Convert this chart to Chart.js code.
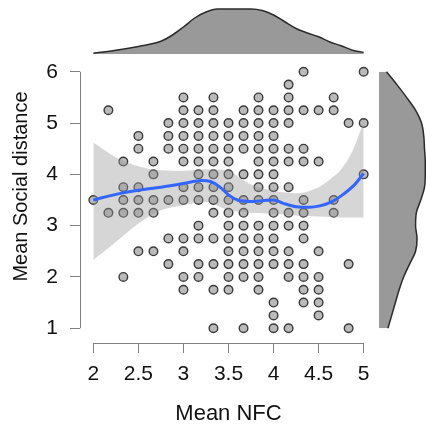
<!DOCTYPE html>
<html><head><meta charset="utf-8">
<script src="https://cdn.jsdelivr.net/npm/chart.js@4/dist/chart.umd.min.js"></script>
<style>
html,body{margin:0;padding:0;background:#fff;}
#wrap{position:relative;width:426px;height:428px;overflow:hidden;background:#fff;}
#wrap canvas{position:absolute;}
</style></head><body>
<div id="wrap">
<canvas id="main" width="426" height="428" style="left:0;top:0"></canvas>
<canvas id="topd" width="426" height="54" style="left:0;top:0"></canvas>
<canvas id="rightd" width="47" height="428" style="left:379px;top:0"></canvas>
</div>
<script>
// ---- data ----
const nfcLevels = [2.0, 2.167, 2.333, 2.5, 2.667, 2.833, 3.0, 3.167, 3.333, 3.5, 3.667, 3.833, 4.0, 4.167, 4.333, 4.5, 4.667, 4.833, 5.0];
const socialAtLevel = [
  [3.5],
  [5.25, 3.25],
  [4.25, 3.75, 3.5, 3.25, 2.0],
  [4.75, 4.5, 3.75, 3.5, 3.25, 2.5],
  [4.25, 4.0, 3.5, 3.25, 2.5],
  [5.0, 4.75, 4.5, 3.5, 2.75, 2.25],
  [5.5, 5.25, 5.0, 4.75, 4.5, 4.25, 3.75, 3.5, 2.75, 2.5, 2.0, 1.75],
  [5.25, 5.0, 4.75, 4.5, 4.25, 4.0, 3.75, 3.5, 3.0, 2.75, 2.25, 2.0],
  [5.5, 5.25, 5.0, 4.75, 4.5, 4.25, 4.0, 3.75, 3.5, 3.25, 2.75, 2.25, 1.75, 1.0],
  [5.0, 4.75, 4.5, 4.25, 4.0, 3.75, 3.5, 3.25, 3.0, 2.75, 2.5, 2.25, 2.0, 1.75],
  [5.25, 5.0, 4.75, 4.5, 4.0, 3.5, 3.25, 3.0, 2.75, 2.5, 2.25, 2.0, 1.0],
  [5.5, 5.25, 5.0, 4.75, 4.5, 4.25, 4.0, 3.75, 3.5, 3.0, 2.75, 2.5, 2.25, 2.0, 1.75],
  [5.25, 5.0, 4.75, 4.5, 4.25, 4.0, 3.75, 3.5, 3.25, 3.0, 2.75, 2.5, 2.25, 1.5, 1.25, 1.0],
  [5.75, 5.5, 5.25, 5.0, 4.5, 4.25, 3.75, 3.25, 3.0, 2.5, 2.25, 2.0, 1.0],
  [6.0, 5.25, 4.5, 4.25, 3.5, 3.25, 3.0, 2.75, 2.25, 2.0, 1.75, 1.5],
  [5.25, 4.25, 2.5, 2.0, 1.75, 1.5, 1.25],
  [5.5, 5.25, 3.5, 3.25],
  [5.0, 2.25, 1.0],
  [6.0, 5.0, 4.0]
];

const smoothX = [2.0, 2.25, 2.5, 2.75, 3.0, 3.2, 3.3, 3.4, 3.5, 3.6, 3.75, 3.9, 4.0, 4.1, 4.25, 4.4, 4.5, 4.65, 4.75, 4.9, 5.0];
const smoothY = [3.50, 3.61, 3.69, 3.75, 3.82, 3.88, 3.86, 3.76, 3.60, 3.50, 3.47, 3.49, 3.50, 3.44, 3.37, 3.36, 3.38, 3.47, 3.58, 3.80, 4.02];

const bandX     = [2.0, 2.25, 2.5, 2.75, 3.0, 3.25, 3.5, 3.625, 3.75, 4.0, 4.25, 4.5, 4.625, 4.75, 4.875, 5.0];
const bandUpper = [4.62, 4.33, 4.16, 4.08, 4.07, 4.10, 4.08, 3.93, 3.80, 3.68, 3.63, 3.75, 3.90, 4.10, 4.45, 5.02];
const bandLower = [2.33, 2.68, 3.04, 3.30, 3.40, 3.46, 3.30, 3.27, 3.25, 3.23, 3.20, 3.18, 3.17, 3.16, 3.16, 3.16];

const nfcDensityX = [2.0, 2.25, 2.5, 2.625, 2.75, 2.875, 3.0, 3.125, 3.25, 3.375, 3.5, 3.625, 3.75, 3.875, 4.0, 4.125, 4.25, 4.375, 4.5, 4.625, 4.75, 4.875, 5.0];
const nfcDensity  = [0.01, 0.05, 0.10, 0.13, 0.17, 0.25, 0.36, 0.48, 0.56, 0.60, 0.60, 0.60, 0.60, 0.58, 0.52, 0.43, 0.34, 0.28, 0.23, 0.16, 0.11, 0.05, 0.02];

const socialDensityY = [6.0, 5.75, 5.5, 5.25, 5.0, 4.75, 4.5, 4.25, 4.0, 3.75, 3.5, 3.25, 3.0, 2.75, 2.5, 2.25, 2.0, 1.75, 1.5, 1.25, 1.0];
const socialDensity  = [0.10, 0.24, 0.37, 0.49, 0.57, 0.60, 0.61, 0.62, 0.62, 0.61, 0.56, 0.50, 0.49, 0.51, 0.49, 0.41, 0.33, 0.27, 0.22, 0.17, 0.12];

const xTicks = [2, 2.5, 3, 3.5, 4, 4.5, 5];
const xTickLabels = ['2', '2.5', '3', '3.5', '4', '4.5', '5'];
const yTicks = [1, 2, 3, 4, 5, 6];
const yTickLabels = ['1', '2', '3', '4', '5', '6'];

// ---- build ----
const X_MIN = 1.852, X_MAX = 5.148, Y_MIN = 0.712, Y_MAX = 6.288;
const FONT = 'Liberation Sans, Arial, sans-serif';

const points = [];
nfcLevels.forEach((x, i) => socialAtLevel[i].forEach(y => points.push({x, y})));
const zip = (xs, ys) => xs.map((x, i) => ({x, y: ys[i]}));

const align = p => Math.round(p - 0.5) + 0.5;
const axisLines = {
  id: 'axisLines',
  afterLayout(chart) {
    // centre the y-axis title a little higher, as in the reference
    const s = chart.scales.y;
    if (!s._titleShifted) {
      const orig = s.drawTitle;
      s.drawTitle = function () {
        const t = this.top;
        this.top = t - 27;
        orig.call(this);
        this.top = t;
      };
      s._titleShifted = true;
    }
  },
  afterDraw(chart) {
    const {ctx, chartArea, scales: {x, y}} = chart;
    ctx.save();
    ctx.strokeStyle = '#808080';
    ctx.lineWidth = 1;
    ctx.beginPath();
    const lx = align(chartArea.left);
    ctx.moveTo(lx, y.getPixelForValue(yTicks[0]));
    ctx.lineTo(lx, y.getPixelForValue(yTicks[yTicks.length - 1]));
    const by = align(chartArea.bottom);
    ctx.moveTo(x.getPixelForValue(xTicks[0]), by);
    ctx.lineTo(x.getPixelForValue(xTicks[xTicks.length - 1]), by);
    ctx.stroke();
    ctx.restore();
  }
};

new Chart(document.getElementById('main'), {
  type: 'scatter',
  data: {
    datasets: [
      {label: 'obs', data: points, pointRadius: 4.3, pointBackgroundColor: '#bababa',
       pointBorderColor: '#3a3a3a', pointBorderWidth: 1.4, order: 10},
      {label: 'upper', data: zip(bandX, bandUpper), showLine: true, pointRadius: 0,
       borderWidth: 0, borderColor: 'rgba(0,0,0,0)', fill: '+1',
       backgroundColor: 'rgba(153,153,153,0.4)', cubicInterpolationMode: 'monotone', order: 5},
      {label: 'lower', data: zip(bandX, bandLower), showLine: true, pointRadius: 0,
       borderWidth: 0, borderColor: 'rgba(0,0,0,0)', fill: false,
       cubicInterpolationMode: 'monotone', order: 5},
      {label: 'smooth', data: zip(smoothX, smoothY), showLine: true, pointRadius: 0,
       borderColor: '#3366FF', borderWidth: 3, fill: false,
       cubicInterpolationMode: 'monotone', order: 0}
    ]
  },
  options: {
    responsive: false, animation: false,
    layout: {padding: {top: 57, right: 49, left: 0, bottom: 0}},
    plugins: {legend: {display: false}, tooltip: {enabled: false}},
    scales: {
      x: {
        type: 'linear', min: X_MIN, max: X_MAX,
        afterBuildTicks: s => { s.ticks = xTicks.map(v => ({value: v})); },
        afterFit: s => { s.height = 85; },
        grid: {display: true, drawOnChartArea: false, drawTicks: true, tickLength: 10, color: '#808080', lineWidth: 1},
        border: {display: false},
        ticks: {autoSkip: false, maxRotation: 0, minRotation: 0, padding: 9, color: '#111',
                font: {family: FONT, size: 21}, callback: (v, i) => xTickLabels[i]},
        title: {display: true, text: 'Mean NFC', color: '#111', font: {family: FONT, size: 22},
                padding: {top: 0, bottom: 1}}
      },
      y: {
        type: 'linear', min: Y_MIN, max: Y_MAX,
        afterBuildTicks: s => { s.ticks = yTicks.map(v => ({value: v})); },
        afterFit: s => { s.width = 80; },
        grid: {display: true, drawOnChartArea: false, drawTicks: true, tickLength: 10, color: '#808080', lineWidth: 1},
        border: {display: false},
        ticks: {autoSkip: false, padding: 12, color: '#111',
                font: {family: FONT, size: 21}, callback: (v, i) => yTickLabels[i]},
        title: {display: true, text: 'Mean Social distance', color: '#111', font: {family: FONT, size: 20},
                padding: {top: 9, bottom: 0}}
      }
    }
  },
  plugins: [axisLines]
});

new Chart(document.getElementById('topd'), {
  type: 'scatter',
  data: {datasets: [{data: zip(nfcDensityX, nfcDensity), showLine: true, fill: 'origin',
    backgroundColor: '#999999', borderColor: '#2b2b2b', borderWidth: 1.5, pointRadius: 0,
    cubicInterpolationMode: 'monotone'}]},
  options: {
    responsive: false, animation: false,
    layout: {padding: {left: 80, right: 49, top: 0, bottom: 0}},
    plugins: {legend: {display: false}, tooltip: {enabled: false}},
    scales: {x: {type: 'linear', display: false, min: X_MIN, max: X_MAX},
             y: {type: 'linear', display: false, min: 0, max: 0.72}}
  }
});

new Chart(document.getElementById('rightd'), {
  type: 'line',
  data: {datasets: [{data: socialDensityY.map((v, i) => ({x: socialDensity[i], y: v})), fill: 'origin',
    backgroundColor: '#999999', borderColor: '#2b2b2b', borderWidth: 1.5, pointRadius: 0,
    cubicInterpolationMode: 'monotone'}]},
  options: {
    indexAxis: 'y',
    responsive: false, animation: false,
    layout: {padding: {left: 0, right: 0, top: 57, bottom: 85}},
    plugins: {legend: {display: false}, tooltip: {enabled: false}},
    scales: {x: {type: 'linear', display: false, min: 0, max: 0.63},
             y: {type: 'linear', display: false, min: Y_MIN, max: Y_MAX}}
  }
});
</script>
</body></html>
